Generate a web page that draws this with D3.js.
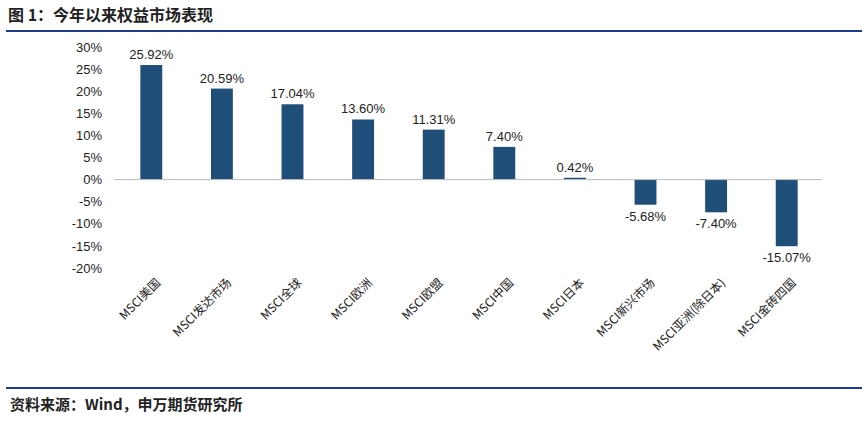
<!DOCTYPE html>
<html><head><meta charset="utf-8">
<script src="https://cdn.jsdelivr.net/npm/d3@7"></script>
<style>body{margin:0;background:#fff;font-family:"Noto Sans CJK SC","Noto Sans",sans-serif;}</style>
</head><body><svg id="c" width="868" height="421"></svg>
<script>
const categories = ["MSCI美国","MSCI发达市场","MSCI全球","MSCI欧洲","MSCI欧盟","MSCI中国","MSCI日本","MSCI新兴市场","MSCI亚洲(除日本)","MSCI金砖四国"];
const values = [25.92, 20.59, 17.04, 13.60, 11.31, 7.40, 0.42, -5.68, -7.40, -15.07];
const yTicks = [30, 25, 20, 15, 10, 5, 0, -5, -10, -15, -20];

const svg = d3.select("#c");
const blue = "#1f4e79";

svg.append("text").attr("x", 8).attr("y", 21).attr("font-size", 16).attr("font-weight", "bold")
  .attr("fill", "#222").text("图 1：今年以来权益市场表现");
svg.append("line").attr("x1", 6).attr("x2", 862).attr("y1", 31).attr("y2", 31)
  .attr("stroke", "#1a3d8f").attr("stroke-width", 2);

const x = d3.scaleBand().domain(categories).range([116, 822]).paddingInner(0.69).paddingOuter(0.345);
const y = d3.scaleLinear().domain([-20, 30]).range([268, 47]);

svg.append("g").attr("transform", "translate(110,0)")
  .call(d3.axisLeft(y).tickValues(yTicks).tickFormat(d => d + "%").tickSize(0).tickPadding(8))
  .call(g => g.select(".domain").remove())
  .selectAll("text").attr("font-size", 13).attr("fill", "#222").attr("font-family", "Liberation Sans, sans-serif");

svg.selectAll("rect.bar").data(values).join("rect")
  .attr("x", (d, i) => x(categories[i]))
  .attr("width", x.bandwidth())
  .attr("y", d => y(Math.max(0, d)))
  .attr("height", d => Math.abs(y(d) - y(0)))
  .attr("fill", blue);

svg.append("line").attr("x1", 114).attr("x2", 822).attr("y1", y(0)).attr("y2", y(0))
  .attr("stroke", "#bbb");

svg.selectAll("text.val").data(values).join("text")
  .attr("x", (d, i) => x(categories[i]) + x.bandwidth() / 2)
  .attr("y", d => d >= 0 ? y(d) - 6 : y(d) + 16)
  .attr("text-anchor", "middle").attr("font-size", 13).attr("fill", "#222")
  .attr("font-family", "Liberation Sans, sans-serif")
  .text(d => d.toFixed(2) + "%");

svg.selectAll("text.cat").data(categories).join("text")
  .attr("transform", d => `translate(${x(d) + x.bandwidth() / 2 + 10},${y(0) + 104}) rotate(-45)`)
  .attr("text-anchor", "end").attr("font-size", 12).attr("fill", "#222")
  .text(d => d);

svg.append("line").attr("x1", 6).attr("x2", 862).attr("y1", 388).attr("y2", 388)
  .attr("stroke", "#1a3d8f").attr("stroke-width", 2);
svg.append("text").attr("x", 10).attr("y", 410).attr("font-size", 15).attr("font-weight", "bold")
  .attr("fill", "#222").text("资料来源：Wind，申万期货研究所");
</script></body></html>
